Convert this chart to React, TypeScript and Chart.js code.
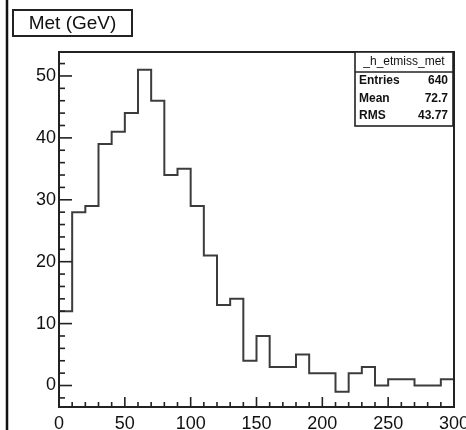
import React, { useEffect, useRef } from "react";
import { Chart, registerables } from "chart.js";

Chart.register(...registerables);

// Histogram: Met (GeV), 10 GeV bins
const binLowEdges = [0, 10, 20, 30, 40, 50, 60, 70, 80, 90, 100, 110, 120, 130, 140, 150, 160, 170, 180, 190, 200, 210, 220, 230, 240, 250, 260, 270, 280, 290];
const binCounts = [12, 28, 29, 39, 41, 44, 51, 46, 34, 35, 29, 21, 13, 14, 4, 8, 3, 3, 5, 2, 2, -1, 2, 3, 0, 1, 1, 0, 0, 1];
const xUpperEdge = 300;

const xTickValues = [0, 50, 100, 150, 200, 250, 300];
const yTickValues = [0, 10, 20, 30, 40, 50];

const titleText = "Met (GeV)";
const statsName = "_h_etmiss_met";
const statsLabels = ["Entries", "Mean", "RMS"];
const statsValues = ["640", "72.7", "43.77"];

const FONT = "'Liberation Sans', Arial, Helvetica, sans-serif";

const decorPlugin = {
  id: "rootDecor",
  afterDraw(chart: any) {
    const ctx = chart.ctx as CanvasRenderingContext2D;
    const { left, right, top, bottom } = chart.chartArea;
    const xs = chart.scales.x;
    const ys = chart.scales.y;
    ctx.save();

    // canvas left border
    ctx.strokeStyle = "#111";
    ctx.lineWidth = 2.5;
    ctx.beginPath();
    ctx.moveTo(7, 0);
    ctx.lineTo(7, 430);
    ctx.stroke();

    // frame
    ctx.strokeStyle = "#222";
    ctx.lineWidth = 2;
    ctx.strokeRect(left, top, right - left, bottom - top);

    // x ticks (inside, upward)
    ctx.lineWidth = 1.6;
    for (let v = xs.min; v <= xs.max + 0.001; v += 10) {
      const px = xs.getPixelForValue(v);
      const major = Math.abs(v % 50) < 0.001;
      ctx.beginPath();
      ctx.moveTo(px, bottom);
      ctx.lineTo(px, bottom - (major ? 10 : 5));
      ctx.stroke();
    }
    // y ticks (inside, rightward)
    for (let v = -2; v <= ys.max; v += 2) {
      const py = ys.getPixelForValue(v);
      const major = Math.abs(v % 10) < 0.001;
      ctx.beginPath();
      ctx.moveTo(left, py);
      ctx.lineTo(left + (major ? 13 : 6), py);
      ctx.stroke();
    }

    // title box
    ctx.fillStyle = "#fff";
    ctx.fillRect(13, 10, 119, 26);
    ctx.strokeStyle = "#222";
    ctx.lineWidth = 2;
    ctx.strokeRect(13, 10, 119, 26);
    ctx.fillStyle = "#111";
    ctx.font = `19px ${FONT}`;
    ctx.textAlign = "center";
    ctx.textBaseline = "middle";
    ctx.fillText(titleText, 72.5, 23.5);

    // stats box
    const sx = 355, sy = 52, sw = 98, sh = 74;
    ctx.fillStyle = "#fff";
    ctx.fillRect(sx, sy, sw, sh);
    ctx.strokeStyle = "#222";
    ctx.lineWidth = 1.6;
    ctx.strokeRect(sx, sy, sw, sh);
    ctx.beginPath();
    ctx.moveTo(sx, 72);
    ctx.lineTo(sx + sw, 72);
    ctx.stroke();
    ctx.fillStyle = "#111";
    ctx.font = `12px ${FONT}`;
    ctx.textAlign = "center";
    ctx.fillText(statsName, sx + sw / 2, 62);
    ctx.font = `bold 12px ${FONT}`;
    const rowY = [81, 99, 116];
    statsLabels.forEach((lab, i) => {
      ctx.textAlign = "left";
      ctx.fillText(lab, sx + 4, rowY[i]);
      ctx.textAlign = "right";
      ctx.fillText(statsValues[i], sx + sw - 5, rowY[i]);
    });

    ctx.restore();
  },
};

export default function App() {
  const ref = useRef<HTMLCanvasElement | null>(null);

  useEffect(() => {
    if (!ref.current) return;
    const points = binLowEdges.map((x, i) => ({ x, y: binCounts[i] }));
    points.push({ x: xUpperEdge, y: binCounts[binCounts.length - 1] });

    const chart = new Chart(ref.current, {
      type: "line",
      data: {
        datasets: [
          {
            data: points,
            stepped: "before",
            borderColor: "#3c3c3c",
            borderWidth: 2,
            pointRadius: 0,
            fill: false,
          },
        ],
      },
      options: {
        animation: false,
        responsive: false,
        devicePixelRatio: 1,
        layout: { padding: { top: 52, right: 12, left: 0, bottom: 0 } },
        plugins: { legend: { display: false }, tooltip: { enabled: false }, title: { display: false } },
        scales: {
          x: {
            type: "linear",
            min: 0,
            max: 300,
            grid: { display: false, drawTicks: false },
            border: { display: false },
            afterBuildTicks: (s: any) => {
              s.ticks = xTickValues.map((v) => ({ value: v }));
            },
            afterFit: (s: any) => {
              s.height = 23;
              s.paddingLeft = 0;
              s.paddingRight = 0;
            },
            ticks: {
              color: "#111",
              font: { family: FONT, size: 18 },
              padding: 6,
              maxRotation: 0,
              autoSkip: false,
            },
          },
          y: {
            type: "linear",
            min: -3.47,
            max: 53.87,
            grid: { display: false, drawTicks: false },
            border: { display: false },
            afterBuildTicks: (s: any) => {
              s.ticks = yTickValues.map((v) => ({ value: v }));
            },
            afterFit: (s: any) => {
              s.width = 59;
              s.paddingTop = 0;
              s.paddingBottom = 0;
            },
            ticks: {
              color: "#111",
              font: { family: FONT, size: 18 },
              padding: 3,
              autoSkip: false,
            },
          },
        },
      },
      plugins: [decorPlugin],
    });
    return () => chart.destroy();
  }, []);

  return (
    <div style={{ position: "fixed", left: 0, top: 0, width: 466, height: 430, background: "#fff" }}>
      <canvas ref={ref} width={466} height={430} style={{ width: 466, height: 430, display: "block" }} />
    </div>
  );
}
